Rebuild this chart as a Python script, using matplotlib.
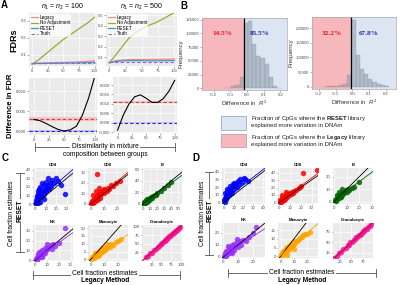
import matplotlib
matplotlib.use('Agg')
import matplotlib.pyplot as plt
from matplotlib.lines import Line2D
from matplotlib.patches import Rectangle

plt.rcParams['font.family'] = ['Liberation Sans', 'DejaVu Sans']
plt.rcParams['mathtext.fontset'] = 'custom'
plt.rcParams['mathtext.rm'] = 'Liberation Sans'
plt.rcParams['mathtext.it'] = 'Liberation Sans:italic'
plt.rcParams['mathtext.bf'] = 'Liberation Sans:bold'

# ---------------- Panel A data ----------------
dissim = [0, 10, 20, 30, 40, 50, 60, 70, 80, 90, 100]
noadj_100 = [0.045, 0.07, 0.10, 0.13, 0.16, 0.19, 0.215, 0.24, 0.265, 0.29, 0.32]
legacy_100 = [0.050, 0.052, 0.053, 0.054, 0.055, 0.056, 0.057, 0.058, 0.060, 0.062, 0.065]
reset_100 = [0.048, 0.050, 0.050, 0.051, 0.052, 0.052, 0.053, 0.053, 0.054, 0.055, 0.056]
truth_100 = [0.05, 0.05, 0.05, 0.05, 0.05, 0.05, 0.05, 0.05, 0.05, 0.05, 0.05]
noadj_500 = [0.045, 0.12, 0.20, 0.28, 0.33, 0.37, 0.40, 0.425, 0.455, 0.49, 0.525]
legacy_500 = [0.050, 0.065, 0.072, 0.075, 0.076, 0.076, 0.077, 0.078, 0.079, 0.080, 0.082]
reset_500 = [0.045, 0.058, 0.064, 0.066, 0.066, 0.065, 0.064, 0.064, 0.065, 0.066, 0.067]
truth_500 = [0.05, 0.05, 0.05, 0.05, 0.05, 0.05, 0.05, 0.05, 0.05, 0.05, 0.05]
diff_100 = [0.0029, 0.0026, 0.0019, 0.0011, 0.0004, 0.0000, 0.0003, 0.0012, 0.0040, 0.0082, 0.0135]
diff_500 = [-0.0040, 0.0040, 0.0100, 0.0138, 0.0148, 0.0130, 0.0108, 0.0108, 0.0128, 0.0168, 0.0225]
mean_legacy_100, mean_reset_100 = 0.0030, 0.0
mean_legacy_500, mean_reset_500 = 0.0111, 0.0
band_legacy_100 = (0.0026, 0.0034)
band_reset_100 = (-0.0002, 0.0002)
band_legacy_500 = (0.0106, 0.0116)
band_reset_500 = (-0.0003, 0.0003)

# ---------------- Panel B data ----------------
histL_edges = [-0.145, -0.12, -0.095, -0.07, -0.045, -0.02, 0.005, 0.03, 0.055, 0.08, 0.105, 0.13, 0.155, 0.18]
histL_counts = [500, 1500, 5000, 6000, 20000, 118000, 122000, 80000, 58000, 56000, 45000, 20000, 5000, 1500]
cutL = -0.02
histR_edges = [-0.18, -0.155, -0.13, -0.105, -0.08, -0.055, -0.03, -0.005, 0.02, 0.045, 0.07, 0.095, 0.12, 0.145, 0.17, 0.195]
histR_counts = [500, 1000, 1500, 2500, 4000, 9000, 41000, 227000, 107000, 62000, 42000, 25000, 15000, 9000, 5000, 2500]
cutR = -0.005
pctL = ('14.5%', '85.5%')
pctR = ('32.2%', '67.8%')

# ---------------- Panel C data ----------------
c_cd4_x = [0.5, 1, 1.5, 2, 2.5, 3, 3, 4, 4, 5, 5, 6, 6, 7, 7, 8, 8, 9, 10, 10, 11, 12, 13, 14, 15, 16, 18, 20, 22, 25, 3, 5, 8, 2, 12, 1, 28]
c_cd4_y = [2, 5, 8, 3, 12, 6, 15, 9, 18, 11, 20, 8, 14, 16, 24, 12, 22, 18, 15, 26, 20, 22, 18, 25, 21, 28, 24, 30, 27, 22, 1, 3, 6, 10, 30, 0.5, 12]
c_cd8_x = [0.5, 1, 1.5, 2, 2.5, 3, 3.5, 4, 4.5, 5, 5.5, 6, 7, 7, 8, 9, 10, 10, 11, 12, 13, 14, 15, 17, 19, 22, 4, 6, 2, 5]
c_cd8_y = [1, 3, 0.5, 4, 2, 6, 3, 7, 4, 8, 5, 9, 6, 11, 9, 12, 10, 14, 13, 12, 15, 14, 18, 17, 20, 22, 12, 15, 8, 28]
c_b_x = [0.5, 1, 1.5, 2, 2.5, 3, 3.5, 4, 4.5, 5, 6, 7, 8, 9, 10, 11, 12, 14, 16, 18, 20, 25, 30, 35, 40, 1, 3, 5]
c_b_y = [0.5, 2, 1, 3, 2, 4, 2.5, 5, 3.5, 6, 5, 8, 6, 10, 8, 11, 10, 13, 15, 16, 18, 22, 27, 32, 37, 3, 6, 9]
c_nk_x = [0.5, 1, 1.5, 2, 2.5, 3, 3.5, 4, 4.5, 5, 5.5, 6, 6.5, 7, 8, 8, 9, 10, 11, 12, 13, 14, 15, 17, 20, 25, 3, 6, 2, 10]
c_nk_y = [1, 3, 0.5, 4, 2, 5, 3, 7, 4, 8, 5, 10, 6, 9, 7, 12, 10, 11, 13, 12, 15, 11, 16, 14, 18, 33, 8, 3, 6, 16]
c_mono_x = [0.5, 1, 2, 2, 3, 3, 4, 4, 5, 5, 6, 6, 7, 7, 8, 8, 9, 10, 10, 11, 12, 13, 14, 15, 16, 18, 20, 22, 3, 12]
c_mono_y = [0.5, 1.5, 1, 2.5, 1.5, 3, 2, 4, 2.5, 4.5, 3, 5, 4, 6, 4.5, 7, 5.5, 6, 8, 7, 7.5, 9, 8, 10, 9.5, 11, 12, 13, 4, 10]
c_gran_x = [10, 15, 20, 25, 30, 35, 40, 45, 48, 50, 52, 55, 58, 60, 62, 65, 68, 70, 72, 75, 78, 80, 82, 85, 88, 90, 92, 95, 98]
c_gran_y = [12, 14, 22, 24, 31, 34, 41, 44, 50, 49, 53, 56, 57, 61, 61, 66, 67, 71, 71, 76, 77, 81, 81, 86, 87, 90, 93, 95, 98]

# ---------------- Panel D data ----------------
d_cd4_x = [0.5, 1, 1.5, 2, 2.5, 3, 3.5, 4, 5, 5, 6, 6, 7, 8, 8, 9, 10, 10, 11, 12, 13, 14, 15, 16, 18, 20, 22, 25, 3, 1]
d_cd4_y = [3, 6, 1, 9, 4, 12, 7, 15, 10, 18, 13, 22, 16, 12, 20, 24, 17, 26, 22, 25, 20, 28, 24, 30, 27, 32, 30, 28, 17, 12]
d_cd8_x = [0.5, 1, 1.5, 2, 2.5, 3, 3.5, 4, 4.5, 5, 5.5, 6, 7, 8, 9, 10, 11, 12, 13, 14, 16, 18, 20, 22, 35, 3, 6]
d_cd8_y = [1, 3, 0.5, 4, 2, 6, 3, 7, 4, 8, 5, 10, 8, 11, 10, 13, 12, 14, 13, 16, 17, 20, 22, 40, 43, 10, 14]
d_b_x = [0.5, 1, 1.5, 2, 2.5, 3, 3.5, 4, 4.5, 5, 5.5, 6, 6.5, 7, 8, 9, 10, 11, 12, 14, 16, 20, 2, 4, 6]
d_b_y = [1, 2, 0.5, 3, 2, 4, 2.5, 5, 3.5, 6, 4, 7, 5, 8, 7, 9, 8, 10, 9, 11, 12, 16, 5, 8, 10]
d_nk_x = [0.5, 1, 1.5, 2, 2.5, 3, 3.5, 4, 4.5, 5, 5.5, 6, 7, 7, 8, 9, 10, 11, 12, 13, 15, 17, 20, 3, 6, 9, 22]
d_nk_y = [1, 3, 0.5, 5, 2, 6, 3, 8, 4, 7, 5, 10, 6, 11, 9, 12, 8, 13, 10, 14, 13, 16, 20, 9, 3, 15, 25]
d_mono_x = [0.5, 1, 2, 2, 3, 3, 4, 4, 5, 5, 6, 6, 7, 8, 8, 9, 10, 10, 11, 12, 13, 14, 15, 16, 17, 18, 20, 22, 5, 10]
d_mono_y = [0.5, 2, 1, 3, 2, 3.5, 2.5, 4.5, 3, 5.5, 4, 6, 5, 5.5, 7, 6.5, 7, 8.5, 8, 9, 9.5, 10, 11, 11, 12, 12.5, 13, 14, 1, 4]
d_gran_x = [12, 18, 22, 28, 32, 38, 42, 45, 48, 52, 55, 58, 60, 63, 66, 68, 70, 72, 75, 78, 80, 83, 86, 90, 93]
d_gran_y = [14, 17, 24, 27, 34, 37, 43, 45, 50, 51, 56, 57, 62, 62, 67, 67, 71, 72, 76, 77, 81, 82, 87, 89, 94]

cell_types = ['CD4', 'CD8', 'B', 'NK', 'Monocyte', 'Granulocyte']
cell_colors = ['#0000ff', '#ff0000', '#006400', '#9b30ff', '#ffa500', '#ff1493']
# regression (intercept, slope) per cell type
c_fits = [(2.5, 1.05), (0.5, 1.05), (-1.0, 0.92), (1.0, 0.85), (1.0, 0.55), (0.0, 1.0)]
d_fits = [(3.0, 1.0), (1.0, 1.05), (1.0, 0.75), (1.0, 0.80), (0.5, 0.65), (0.0, 1.0)]

# ---------------- figure ----------------
W, H = 400, 285
fig = plt.figure(figsize=(W / 100, H / 100), dpi=100)


def ax_px(x0, y0, x1, y1):
    return fig.add_axes([x0 / W, 1 - y1 / H, (x1 - x0) / W, (y1 - y0) / H])


def gg(ax, fs=3.2):
    ax.set_facecolor('#ebebeb')
    for s in ax.spines.values():
        s.set_visible(False)
    ax.grid(True, color='white', lw=0.5)
    ax.set_axisbelow(True)
    ax.tick_params(length=1.2, width=0.4, pad=0.8, labelsize=fs, colors='#666666', labelcolor='#4d4d4d')


def ftext(x, y, s, **kw):
    fig.text(x / W, 1 - y / H, s, **kw)


def fline(xs, ys, **kw):
    fig.add_artist(Line2D([x / W for x in xs], [1 - y / H for y in ys], **kw))


col_legacy, col_noadj, col_reset, col_truth = '#f08a8a', '#9aab2f', '#4c8fc4', '#8a6bd1'

# A top panels
for rect, na, le, re, tr, yl, yt, title in [
        ((29, 13, 97, 66), noadj_100, legacy_100, reset_100, truth_100, (0.035, 0.345), [0.1, 0.2, 0.3], r'$n_1$ = $n_2$ = 100'),
        ((106, 13, 177, 66), noadj_500, legacy_500, reset_500, truth_500, (0.015, 0.52), [0.1, 0.2, 0.3, 0.4, 0.5], r'$n_1$ = $n_2$ = 500')]:
    ax = ax_px(*rect)
    gg(ax, 3.1)
    ax.plot(dissim, le, color=col_legacy, lw=0.9, label='Legacy')
    ax.plot(dissim, na, color=col_noadj, lw=0.9, label='No Adjustment')
    ax.plot(dissim, re, color=col_reset, lw=0.9, label='RESET')
    ax.plot(dissim, tr, color=col_truth, lw=0.8, ls=(0, (3, 2)), label='Truth')
    ax.set_xlim(-5, 104)
    ax.set_ylim(*yl)
    ax.set_xticks([0, 25, 50, 75, 100])
    ax.set_yticks(yt)
    ax.set_title(title, fontsize=5, pad=3)
    ax.legend(loc='upper left', fontsize=3.3, handlelength=1.5, labelspacing=0.1, borderpad=0.25,
              frameon=True, facecolor='white', edgecolor='none', framealpha=0.75,
              handletextpad=0.4, borderaxespad=0.15)

# A bottom panels
for rect, d, ml, mr, bl, br, yl, yt, ylab in [
        ((29, 78, 97, 135), diff_100, mean_legacy_100, mean_reset_100, band_legacy_100, band_reset_100,
         (-0.001, 0.0133), [0.0, 0.005, 0.010], ['0.000', '0.005', '0.010']),
        ((113, 77, 177, 133), diff_500, mean_legacy_500, mean_reset_500, band_legacy_500, band_reset_500,
         (-0.0055, 0.0243), [-0.005, 0.0, 0.005, 0.010, 0.015, 0.020],
         ['-0.005', '0.000', '0.005', '0.010', '0.015', '0.020'])]:
    ax = ax_px(*rect)
    gg(ax, 3.1)
    ax.axhspan(*bl, color='#f6c4c4', lw=0)
    ax.axhspan(*br, color='#c4c4ee', lw=0)
    ax.axhline(ml, color='#e03a3a', lw=0.8, ls=(0, (3, 2)))
    ax.axhline(mr, color='#2b2bd0', lw=0.8, ls=(0, (3, 2)))
    ax.plot(dissim, d, color='black', lw=0.8)
    ax.set_xlim(-8, 104)
    ax.set_ylim(*yl)
    ax.set_xticks([0, 25, 50, 75, 100])
    ax.set_yticks(yt)
    ax.set_yticklabels(ylab)

ftext(14, 40, 'FDRs', rotation=90, fontsize=6.5, weight='bold', ha='center', va='center')
ftext(11, 106, 'Difference in FDR', rotation=90, fontsize=5.5, weight='bold', ha='center', va='center')

# bracket under A
fline([35, 175], [147, 147], color='#555555', lw=0.6)
fline([35, 35], [143, 151], color='#555555', lw=0.6)
fline([175, 175], [143, 151], color='#555555', lw=0.6)
ftext(105, 147, 'Dissimilarity in mixture', fontsize=4.8, ha='center', va='center',
      bbox=dict(fc='white', ec='none', pad=0.8))
ftext(105, 155, 'composition between groups', fontsize=4.8, ha='center', va='center')

# ---------------- Panel B ----------------
for rect, edges, counts, cut, xl, yl, yt, pct, ppos in [
        ((202, 18, 287, 90), histL_edges, histL_counts, cutL, (-0.27, 0.24), (-3000, 128000),
         [0, 25000, 50000, 75000, 100000, 125000], pctL, ((-0.15, 100000), (0.075, 100000))),
        ((312, 17, 396, 89), histR_edges, histR_counts, cutR, (-0.24, 0.26), (-8000, 238000),
         [0, 50000, 100000, 150000, 200000], pctR, ((-0.12, 183000), (0.095, 183000)))]:
    ax = ax_px(*rect)
    ax.set_facecolor('white')
    ax.axvspan(xl[0], cut, color='#f7b8bd', lw=0)
    ax.axvspan(cut, xl[1], color='#dce6f2', lw=0)
    ax.bar(edges, counts, width=0.025, align='edge', color='#8d9aa8', alpha=0.55,
           edgecolor='#7a8794', lw=0.3)
    ax.axvline(cut, color='black', lw=0.9)
    ax.set_xlim(*xl)
    ax.set_ylim(*yl)
    ax.set_xticks([-0.2, -0.1, 0.0, 0.1, 0.2])
    ax.set_xticklabels(['-0.2', '-0.1', '0.0', '0.1', '0.2'])
    ax.set_yticks(yt)
    ax.set_yticklabels([str(v) for v in yt])
    for s in ax.spines.values():
        s.set_color('#aaaaaa')
        s.set_linewidth(0.5)
    ax.tick_params(length=1.2, width=0.4, pad=0.8, labelsize=3.1, colors='#777777', labelcolor='#4d4d4d')
    ax.set_xlabel('Difference in  $R^2$', fontsize=4.4, labelpad=1.5, color='#333333')
    ax.set_ylabel('Frequency', fontsize=4.4, labelpad=1.5, color='#333333')
    ax.text(*ppos[0], pct[0], color='#e8141e', fontsize=5.2, ha='center', va='center',
            family='Liberation Serif', weight='bold')
    ax.text(*ppos[1], pct[1], color='#2626a8', fontsize=5.2, ha='center', va='center',
            family='Liberation Serif', weight='bold')

# legend for B
fig.add_artist(Rectangle((221 / W, 1 - 130 / H), 25 / W, 14 / H, fc='#dce6f2', ec='#8a9fb8', lw=0.5))
fig.add_artist(Rectangle((221 / W, 1 - 147 / H), 25 / W, 13 / H, fc='#f7b8bd', ec='#c09498', lw=0.5))
ftext(251, 118.5, r'Fraction of CpGs where the $\mathbf{RESET}$ library', fontsize=4.3, va='center', color='#222222')
ftext(251, 125, 'explained more variation in DNAm', fontsize=4.3, va='center', color='#222222')
ftext(251, 138, r'Fraction of CpGs where the $\mathbf{Legacy}$ library', fontsize=4.3, va='center', color='#222222')
ftext(251, 144.5, 'explained more variation in DNAm', fontsize=4.3, va='center', color='#222222')

# ---------------- Panels C and D ----------------
c_data = [(c_cd4_x, c_cd4_y), (c_cd8_x, c_cd8_y), (c_b_x, c_b_y),
          (c_nk_x, c_nk_y), (c_mono_x, c_mono_y), (c_gran_x, c_gran_y)]
d_data = [(d_cd4_x, d_cd4_y), (d_cd8_x, d_cd8_y), (d_b_x, d_b_y),
          (d_nk_x, d_nk_y), (d_mono_x, d_mono_y), (d_gran_x, d_gran_y)]
c_rects = [(33, 168, 73, 205), (88, 168, 128, 205), (142, 168, 182, 205),
           (33, 225, 73, 261), (88, 225, 128, 261), (142, 225, 182, 261)]
d_rects = [(222, 168, 265, 204), (278, 168, 318, 204), (333, 168, 373, 204),
           (222, 223, 265, 258), (278, 223, 318, 258), (333, 223, 373, 258)]
c_lims = [((-2, 36), (-1, 42), [0, 10, 20, 30], [0, 10, 20, 30, 40]),
          ((-2, 28), (-1, 34), [0, 10, 20], [0, 10, 20, 30]),
          ((-2, 55), (-2, 62), [0, 10, 20, 30, 40, 50], [0, 20, 40, 60]),
          ((-2, 32), (-1, 36), [0, 10, 20, 30], [0, 10, 20, 30]),
          ((-2, 27), (-1, 22), [0, 10, 20], [0, 5, 10, 15, 20]),
          ((0, 103), (0, 104), [25, 50, 75, 100], [25, 50, 75, 100])]
d_lims = [((-2, 42), (-2, 45), [0, 10, 20, 30, 40], [0, 10, 20, 30, 40]),
          ((-1, 36), (-2, 46), [0, 10, 20, 30], [0, 10, 20, 30, 40]),
          ((-1, 31), (-2, 27), [0, 10, 20, 30], [0, 10, 20]),
          ((-1, 28), (-1, 28), [0, 10, 20], [0, 10, 20]),
          ((-2, 28), (-1, 19), [0, 10, 20], [0, 5, 10, 15]),
          ((10, 97), (13, 96), [25, 50, 75], [25, 50, 75])]

for data, rects, lims, fits in [(c_data, c_rects, c_lims, c_fits), (d_data, d_rects, d_lims, d_fits)]:
    for i in range(6):
        ax = ax_px(*rects[i])
        gg(ax, 3.2)
        ax.tick_params(pad=0.5, length=1.0)
        xs, ys = data[i]
        ax.scatter(xs, ys, s=15, color=cell_colors[i], alpha=0.85, lw=0)
        ax.axline((0, 0), slope=1, color='black', lw=0.6)
        ax.axline((0, fits[i][0]), slope=fits[i][1], color=cell_colors[i], lw=0.6)
        xl, yl, xt, yt = lims[i]
        ax.set_xlim(*xl)
        ax.set_ylim(*yl)
        ax.set_xticks(xt)
        ax.set_yticks(yt)
        ax.set_title(cell_types[i], fontsize=3.0, weight='bold', pad=1.5)

# brackets / axis labels for C
fline([20, 20], [173, 252], color='#555555', lw=0.6)
fline([16, 24], [173, 173], color='#555555', lw=0.6)
fline([16, 24], [252, 252], color='#555555', lw=0.6)
ftext(12, 213, 'Cell fraction estimates', rotation=90, fontsize=4.8, ha='center', va='center')
ftext(20.5, 211, 'RESET', rotation=90, fontsize=4.8, weight='bold', ha='center', va='center',
      bbox=dict(fc='white', ec='none', pad=0.8))
fline([33, 180], [275, 275], color='#555555', lw=0.6)
fline([33, 33], [271, 279], color='#555555', lw=0.6)
fline([180, 180], [271, 279], color='#555555', lw=0.6)
ftext(105, 273.5, 'Cell fraction estimates', fontsize=4.8, ha='center', va='center',
      bbox=dict(fc='white', ec='none', pad=0.8))
ftext(105, 281, 'Legacy Method', fontsize=4.8, weight='bold', ha='center', va='center')

# brackets / axis labels for D
fline([209, 209], [172, 255], color='#555555', lw=0.6)
fline([205, 213], [172, 172], color='#555555', lw=0.6)
fline([205, 213], [255, 255], color='#555555', lw=0.6)
ftext(202, 213, 'Cell fraction estimates', rotation=90, fontsize=4.8, ha='center', va='center')
ftext(209.5, 211, 'RESET', rotation=90, fontsize=4.8, weight='bold', ha='center', va='center',
      bbox=dict(fc='white', ec='none', pad=0.8))
fline([228, 376], [273, 273], color='#555555', lw=0.6)
fline([228, 228], [269, 277], color='#555555', lw=0.6)
fline([376, 376], [269, 277], color='#555555', lw=0.6)
ftext(302, 272, 'Cell fraction estimates', fontsize=4.8, ha='center', va='center',
      bbox=dict(fc='white', ec='none', pad=0.8))
ftext(302, 280, 'Legacy Method', fontsize=4.8, weight='bold', ha='center', va='center')

# panel letters
for lab, x, y in [('A', 4, 5), ('B', 184, 6), ('C', 5, 158), ('D', 196, 158)]:
    ftext(x, y, lab, fontsize=7, weight='bold', ha='center', va='center')

fig.savefig('out.png', dpi=100)
